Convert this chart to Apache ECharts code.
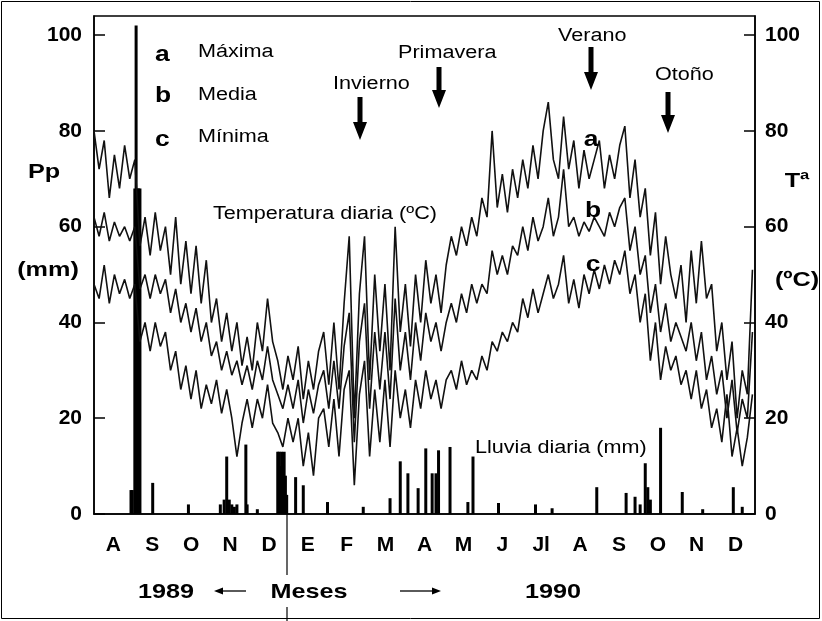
<!DOCTYPE html>
<html>
<head>
    <meta http-equiv="Content-Type" content="text/html; charset=utf-8">
    <title>Temperatura y lluvia diaria</title>
    <script src="https://cdn.jsdelivr.net/npm/echarts@6/dist/echarts.min.js"></script>
    <style>
        html, body { margin: 0; padding: 0; background: #fff; }
        #echarts_main { width: 822px; height: 621px; }
    </style>
</head>
<body>
    <div id="echarts_main"></div>
    <script>
        // meses, ago 1989 -> dic 1990
        var months = ['A', 'S', 'O', 'N', 'D', 'E', 'F', 'M', 'A', 'M', 'J', 'Jl', 'A', 'S', 'O', 'N', 'D'];
        var totalDays = 518;
        // una lectura cada 4 dias, dia 0 = 1 ago 1989
        var step = 4;

        // a - maxima
        var tMax = [80, 72, 78, 66, 75, 68, 77, 70,
            74, 56, 62, 54, 63, 55, 60, 50,
            62, 48, 57, 46, 56, 44, 53,
            40, 45, 36, 42, 34, 40, 31, 37,
            30, 40, 34, 45, 36, 32, 26, 33,
            28, 35, 24, 32, 26, 34, 38,
            27, 40, 26, 44, 58, 20, 46,
            58, 28, 50, 34, 48, 30, 60, 38,
            48, 35, 50, 40, 53, 44, 50, 42,
            52, 58, 54, 60, 56, 62, 58,
            66, 62, 80, 64, 71, 63, 72, 66,
            74, 68, 77, 70, 80, 86, 74, 70,
            83, 72, 78, 68, 76, 70, 74,
            78, 68, 75, 70, 77, 81, 66, 74,
            62, 68, 54, 63, 48, 58, 50, 45,
            52, 40, 55, 44, 57, 45, 48,
            34, 40, 28, 36, 20, 30, 25, 51];
        // b - media
        var tMed = [62, 58, 63, 57, 61, 58, 60, 57,
            60, 47, 50, 45, 50, 46, 49, 42,
            47, 40, 44, 38, 43, 36, 40,
            33, 36, 30, 34, 29, 32, 27, 31,
            26, 32, 28, 35, 28, 25, 22, 27,
            22, 28, 19, 26, 21, 27, 30,
            22, 32, 22, 35, 42, 15, 36,
            44, 22, 38, 26, 38, 24, 45, 30,
            38, 28, 40, 32, 42, 36, 40, 34,
            40, 44, 40, 46, 42, 48, 44,
            48, 46, 55, 50, 54, 50, 56, 54,
            60, 55, 62, 57, 60, 66, 58, 62,
            72, 60, 62, 58, 61, 59, 62,
            60, 58, 63, 60, 64, 66, 55, 60,
            50, 54, 42, 48, 38, 44, 36, 40,
            37, 34, 40, 32, 38, 28, 33,
            25, 30, 20, 28, 17, 24, 20, 38];
        // c - minima
        var tMin = [48, 45, 52, 44, 50, 46, 49, 45,
            48, 36, 40, 34, 40, 35, 38, 30,
            34, 26, 31, 24, 30, 22, 27,
            23, 28, 21, 26, 20, 12, 19, 24,
            18, 24, 20, 27, 19, 17, 14, 20,
            15, 20, 10, 17, 8, 20, 22,
            14, 24, 12, 26, 30, 6, 25,
            32, 12, 26, 15, 28, 14, 30, 20,
            26, 18, 28, 22, 30, 24, 28, 22,
            28, 30, 26, 32, 27, 30, 28,
            33, 30, 36, 34, 38, 36, 40, 38,
            45, 41, 47, 42, 46, 50, 45, 48,
            54, 44, 49, 43, 50, 46, 51,
            47, 52, 48, 53, 50, 55, 46, 50,
            40, 46, 32, 40, 28, 35, 30, 33,
            27, 30, 24, 30, 22, 26, 18,
            22, 15, 25, 12, 18, 10, 16, 25];

        // lluvia diaria: dia y mm
        var rainDay = [29, 30, 32, 33, 34, 35, 36, 46, 74, 99, 102, 104, 106, 108, 110, 112, 119, 120, 128,
            144, 145, 146, 147, 148, 149, 150, 151, 158, 164, 183, 211, 232, 240, 246, 254, 260, 265, 268, 270, 279,
            293, 297, 317, 346, 359, 394, 417, 424, 428, 432, 434, 436, 444, 461, 477, 501, 508];
        var rainMm = [5, 5, 68, 102, 68, 68, 68, 6.5, 2, 2, 3, 12, 3, 2, 1.5, 2, 14.5, 2, 1,
            13, 13, 10, 13, 6, 13, 8, 4, 7.7, 6, 2.5, 1.5, 3.3, 11, 8.5, 5.4, 13.7, 8.5, 8.5, 13.3, 14,
            2.5, 12, 2.3, 2, 1.2, 5.6, 4.4, 3.6, 2, 10.6, 5.6, 3, 18, 4.6, 1, 5.6, 1.5];

        var FONT = '"Liberation Sans", Arial, sans-serif';

        function pairs(arr) {
            return arr.map(function (v, i) { return [i * step, v]; });
        }

        function txt(x, y, s, font, align) {
            return {
                type: 'text', x: x, y: y, scaleX: 1.2, z: 10,
                style: { text: s, font: font + ' ' + FONT, fill: '#000', textAlign: align || 'left', textVerticalAlign: 'middle' }
            };
        }

        // flecha gruesa hacia abajo
        function arrowDown(cx, top, bottom) {
            var h = 18;
            return {
                type: 'polygon', z: 10,
                shape: { points: [[cx - 2.5, top], [cx + 2.5, top], [cx + 2.5, bottom - h], [cx + 7, bottom - h], [cx, bottom], [cx - 7, bottom - h], [cx - 2.5, bottom - h]] },
                style: { fill: '#000' }
            };
        }

        function hLine(x1, x2, y) {
            return { type: 'line', z: 10, shape: { x1: x1, y1: y, x2: x2, y2: y }, style: { stroke: '#000', lineWidth: 1.3 } };
        }
        function head(x, y, dir) {
            return { type: 'polygon', z: 10, shape: { points: [[x, y], [x - dir * 9, y - 3.5], [x - dir * 9, y + 3.5]] }, style: { fill: '#000' } };
        }

        var yAxisBase = {
            type: 'value', min: 0, max: 104, interval: 20,
            axisLine: { show: true, lineStyle: { color: '#000', width: 1.5 } },
            axisTick: { show: true, inside: true, length: 11, lineStyle: { color: '#000', width: 1.5 } },
            axisLabel: { color: '#000', fontWeight: 'bold', fontSize: 21, fontFamily: FONT, showMaxLabel: false },
            splitLine: { show: false }
        };

        var lineStyle = { color: '#111', width: 1.6 };

        var myChart = echarts.init(document.getElementById('echarts_main'), null, { renderer: 'canvas' });
        myChart.setOption({
            animation: false,
            backgroundColor: '#fff',
            grid: { left: 94, right: 67, top: 16, bottom: 107, show: true, borderColor: '#000', borderWidth: 1.5 },
            xAxis: [{
                type: 'category', data: months, boundaryGap: true, position: 'bottom',
                axisLine: { lineStyle: { color: '#000', width: 1.5 } },
                axisTick: { length: 14, lineStyle: { color: '#000', width: 1.5 } },
                axisLabel: { color: '#000', fontWeight: 'bold', fontSize: 21, fontFamily: FONT, margin: 21 },
                splitLine: { show: false }
            }, {
                type: 'value', min: 0, max: totalDays, show: false
            }],
            yAxis: [
                Object.assign({}, yAxisBase, { position: 'left', axisLabel: Object.assign({}, yAxisBase.axisLabel, { margin: 12 }) }),
                Object.assign({}, yAxisBase, { position: 'right', axisLabel: Object.assign({}, yAxisBase.axisLabel, { margin: 10 }) })
            ],
            series: [{
                name: 'Lluvia', type: 'bar', xAxisIndex: 1, yAxisIndex: 0, barWidth: 3,
                itemStyle: { color: '#000' },
                data: rainDay.map(function (d, i) { return [d, rainMm[i]]; })
            }, {
                name: 'Máxima', type: 'line', xAxisIndex: 1, yAxisIndex: 1, showSymbol: false, lineStyle: lineStyle, data: pairs(tMax)
            }, {
                name: 'Media', type: 'line', xAxisIndex: 1, yAxisIndex: 1, showSymbol: false, lineStyle: lineStyle, data: pairs(tMed)
            }, {
                name: 'Mínima', type: 'line', xAxisIndex: 1, yAxisIndex: 1, showSymbol: false, lineStyle: lineStyle, data: pairs(tMin)
            }],
            graphic: [
                { type: 'rect', shape: { x: 1.5, y: 1.5, width: 818, height: 617 }, style: { fill: null, stroke: '#000', lineWidth: 1 } },
                // leyenda
                txt(155, 55, 'a', 'bold 22px'), txt(198, 52, 'Máxima', '18px'),
                txt(155, 96, 'b', 'bold 22px'), txt(198, 95, 'Media', '18px'),
                txt(155, 140, 'c', 'bold 22px'), txt(198, 137, 'Mínima', '18px'),
                // estaciones
                txt(333, 84, 'Invierno', '18px'), arrowDown(360, 97, 140),
                txt(398, 53, 'Primavera', '18px'), arrowDown(439, 67, 108),
                txt(558, 36, 'Verano', '18px'), arrowDown(591, 47, 90),
                txt(655, 75, 'Otoño', '18px'), arrowDown(668, 92, 133),
                txt(213, 214, 'Temperatura diaria (ºC)', '18px'),
                txt(475, 448, 'Lluvia diaria (mm)', '18px'),
                txt(591, 140, 'a', 'bold 22px', 'center'),
                txt(593, 211, 'b', 'bold 22px', 'center'),
                txt(593, 265, 'c', 'bold 22px', 'center'),
                // titulos de ejes
                txt(44, 172, 'Pp', 'bold 21px', 'center'),
                txt(48, 270, '(mm)', 'bold 21px', 'center'),
                txt(797, 181, 'Tª', 'bold 21px', 'center'),
                txt(797, 280, '(ºC)', 'bold 21px', 'center'),
                // pie
                txt(166, 592, '1989', 'bold 21px', 'center'),
                txt(309, 592, 'Meses', 'bold 21px', 'center'),
                txt(553, 592, '1990', 'bold 21px', 'center'),
                hLine(222, 246, 591), head(214, 591, -1),
                hLine(400, 432, 591), head(441, 591, 1),
                { type: 'line', z: 10, shape: { x1: 287, y1: 514, x2: 287, y2: 575 }, style: { stroke: '#000', lineWidth: 1.2 } },
                { type: 'line', z: 10, shape: { x1: 287, y1: 607, x2: 287, y2: 621 }, style: { stroke: '#000', lineWidth: 1.2 } }
            ]
        });
    </script>
</body>
</html>
